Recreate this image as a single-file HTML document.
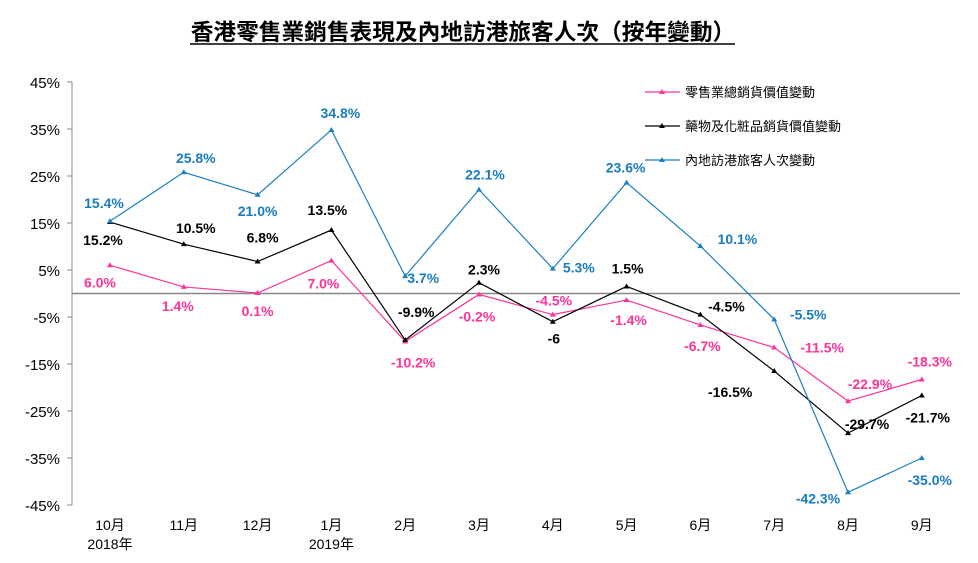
<!DOCTYPE html>
<html><head><meta charset="utf-8"><style>
body{margin:0;background:#fff;}
svg{display:block;font-family:"Liberation Sans","Noto Sans CJK TC",sans-serif;}
</style></head><body>
<svg id="c" width="978" height="563">
<text x="463" y="40" text-anchor="middle" font-size="22.7" font-weight="bold" fill="#000">香港零售業銷售表現及內地訪港旅客人次（按年變動）</text>
<line x1="190" y1="44" x2="735" y2="44" stroke="#000" stroke-width="1.5"/>
<g id="axes"></g><g id="series"></g><g id="legend"></g>
</svg>
<script>
const categories=["10月","11月","12月","1月","2月","3月","4月","5月","6月","7月","8月","9月"];
const subLabels=["2018年","","","2019年","","","","","","","",""];
const yTicks=[45,35,25,15,5,-5,-15,-25,-35,-45];
const retail=[6.0,1.4,0.1,7.0,-10.2,-0.2,-4.5,-1.4,-6.7,-11.5,-22.9,-18.3];
const retailText=["6.0%","1.4%","0.1%","7.0%","-10.2%","-0.2%","-4.5%","-1.4%","-6.7%","-11.5%","-22.9%","-18.3%"];
const drugs=[15.2,10.5,6.8,13.5,-9.9,2.3,-6,1.5,-4.5,-16.5,-29.7,-21.7];
const drugsText=["15.2%","10.5%","6.8%","13.5%","-9.9%","2.3%","-6","1.5%","-4.5%","-16.5%","-29.7%","-21.7%"];
const visitors=[15.4,25.8,21.0,34.8,3.7,22.1,5.3,23.6,10.1,-5.5,-42.3,-35.0];
const visitorsText=["15.4%","25.8%","21.0%","34.8%","3.7%","22.1%","5.3%","23.6%","10.1%","-5.5%","-42.3%","-35.0%"];
const seriesNames=["零售業總銷貨價值變動","藥物及化粧品銷貨價值變動","內地訪港旅客人次變動"];
// label offsets (layout)
const offR=[[-10,17],[-6,19],[0,18],[-8,23],[8,21],[-2,22],[1,-14],[2,20],[2,21],[48,0],[22,-17],[8,-18]];
const offD=[[-7,18],[12,-16],[5,-24],[-4,-20],[11,-28],[5,-13],[1,17],[1,-18],[26,-8],[-44,21],[19,-9],[6,22]];
const offB=[[-6,-18],[12,-14],[0,16],[9,-17],[18,2],[6,-15],[26,-1],[-1,-15],[37,-7],[34,-5],[-30,6],[8,22]];
const NS="http://www.w3.org/2000/svg";
const X=i=>110+i*73.8, Y=v=>293.5-v*4.7;
function mk(t,a,p){const e=document.createElementNS(NS,t);for(const k in a)e.setAttribute(k,a[k]);p.appendChild(e);return e;}
const ax=document.getElementById('axes');
const yl=mk('line',{x1:72,y1:Y(45),x2:72,y2:Y(-45),stroke:'#888'},ax);


yTicks.forEach(v=>{
 const t=mk('text',{x:60,y:Y(v)+6,'text-anchor':'end','font-size':15,fill:'#000'},ax);t.textContent=v+'%';
 
 
 mk('line',{x1:67,y1:Y(v),x2:72,y2:Y(v),stroke:'#888'},ax);
});
const zl=mk('line',{x1:72,y1:Y(0),x2:960,y2:Y(0),stroke:'#888',"stroke-width":1.5},ax);


categories.forEach((c,i)=>{
 const t=mk('text',{x:X(i),y:530,'text-anchor':'middle','font-size':14,fill:'#000'},ax);t.textContent=c;
 
 
 if(subLabels[i]){const s=mk('text',{x:X(i),y:549,'text-anchor':'middle','font-size':14,fill:'#000'},ax);s.textContent=subLabels[i];
 
 }
});
const sg=document.getElementById('series');
const defs=[[retail,retailText,offR,'#ff3399','#ff3399','retail'],[drugs,drugsText,offD,'#000','#000','drugs'],[visitors,visitorsText,offB,'#1a80c4','#1a7cc0','visitors']];
defs.forEach(([d,txt,off,col,tc,nm])=>{
 const pl=mk('polyline',{points:d.map((v,i)=>X(i)+','+Y(v)).join(' '),fill:'none',stroke:col,'stroke-width':1.2},sg);
 
 
 d.forEach((v,i)=>{
  const x=X(i),y=Y(v);
  const m=mk('polygon',{points:`${x},${y-3} ${x-3},${y+2} ${x+3},${y+2}`,fill:col},sg);
  
  
  const t=mk('text',{x:x+off[i][0],y:y+off[i][1]+5,'text-anchor':'middle','font-size':14,'font-weight':'bold',fill:tc},sg);t.textContent=txt[i];
  
  
 });
});
const lg=document.getElementById('legend');
defs.forEach(([d,txt,off,col],k)=>{
 const y=92+k*34;
 mk('line',{x1:645,y1:y,x2:680,y2:y,stroke:col,'stroke-width':1.2},lg);
 mk('polygon',{points:`662,${y-3} 659,${y+2} 665,${y+2}`,fill:col},lg);
 const t=mk('text',{x:685,y:y+5,'font-size':13,fill:'#000'},lg);t.textContent=seriesNames[k];
 
 
});
</script>
</body></html>
